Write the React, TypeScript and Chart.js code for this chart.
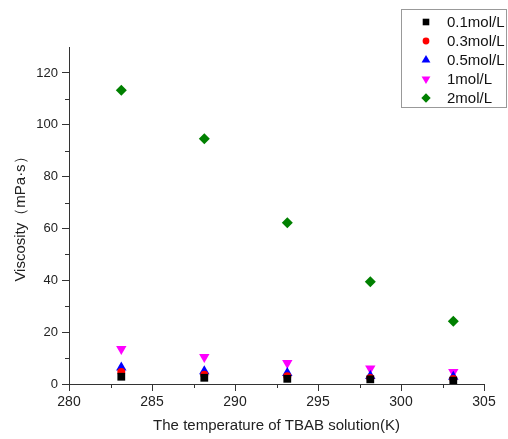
import React, { useEffect, useRef } from "react";
import { Chart, registerables } from "chart.js";
import { drawPoint } from "chart.js/helpers";

Chart.register(...registerables);

const temperatures = [283.15, 288.15, 293.15, 298.15, 303.15];
const c01 = [2.8, 2.4, 2.0, 1.8, 1.3];
const c03 = [4.6, 3.6, 3.0, 2.3, 1.9];
const c05 = [6.4, 4.9, 4.2, 3.1, 2.8];
const c1 = [13.5, 10.4, 8.1, 6.0, 4.6];
const c2 = [113.3, 94.6, 62.2, 39.4, 24.2];

const seriesLabels = ["0.1mol/L", "0.3mol/L", "0.5mol/L", "1mol/L", "2mol/L"];
const xMinorTicks = [282.5, 287.5, 292.5, 297.5, 302.5];
const yMinorTicks = [10, 30, 50, 70, 90, 110];

const FONT = "'Liberation Sans', Arial, sans-serif";

const styles = [
  { pointStyle: "rect", color: "#000000", radius: 5.5, rotation: 0 },
  { pointStyle: "circle", color: "#ff0000", radius: 4, rotation: 0 },
  { pointStyle: "triangle", color: "#0000ff", radius: 6, rotation: 0 },
  { pointStyle: "triangle", color: "#ff00ff", radius: 6, rotation: 180 },
  { pointStyle: "rectRot", color: "#008000", radius: 5.5, rotation: 0 },
];

const minorTicksPlugin = {
  id: "minorTicks",
  afterDraw(chart: any) {
    const { ctx, scales } = chart;
    const x = scales.x;
    const y = scales.y;
    ctx.save();
    ctx.strokeStyle = "#333";
    ctx.lineWidth = 1;
    ctx.beginPath();
    for (const v of xMinorTicks) {
      const px = Math.round(x.getPixelForValue(v)) + 0.5;
      ctx.moveTo(px, y.bottom);
      ctx.lineTo(px, y.bottom + 4);
    }
    for (const v of yMinorTicks) {
      const py = Math.round(y.getPixelForValue(v)) + 0.5;
      ctx.moveTo(x.left, py);
      ctx.lineTo(x.left - 4, py);
    }
    ctx.stroke();
    ctx.restore();
  },
};

const boxLegendPlugin = {
  id: "boxLegend",
  afterDraw(chart: any) {
    const { ctx } = chart;
    ctx.save();
    ctx.strokeStyle = "#999";
    ctx.lineWidth = 1;
    ctx.strokeRect(401.5, 9.5, 105, 98);
    ctx.font = `15px ${FONT}`;
    ctx.textBaseline = "middle";
    ctx.textAlign = "left";
    chart.data.datasets.forEach((ds: any, i: number) => {
      const yy = 22 + i * 19;
      const s = styles[i];
      ctx.fillStyle = s.color;
      ctx.strokeStyle = s.color;
      drawPoint(ctx, { pointStyle: s.pointStyle, radius: s.radius * 0.85, rotation: s.rotation, borderWidth: 0 } as any, 426, yy);
      ctx.fillStyle = "#111";
      ctx.fillText(ds.label, 447, yy + 1);
    });
    ctx.restore();
  },
};

export default function App() {
  const ref = useRef<HTMLCanvasElement | null>(null);
  useEffect(() => {
    document.body.style.margin = "0";
    const all = [c01, c03, c05, c1, c2];
    const chart = new Chart(ref.current as HTMLCanvasElement, {
      type: "scatter",
      data: {
        datasets: all.map((arr, i) => ({
          label: seriesLabels[i],
          data: arr.map((v, j) => ({ x: temperatures[j], y: v })),
          pointStyle: styles[i].pointStyle as any,
          pointRadius: styles[i].radius,
          pointRotation: styles[i].rotation,
          backgroundColor: styles[i].color,
          borderColor: styles[i].color,
          borderWidth: 0,
        })),
      },
      options: {
        animation: false,
        responsive: false,
        maintainAspectRatio: false,
        layout: { padding: { left: 0, right: 24, top: 47, bottom: 0 } },
        plugins: { legend: { display: false }, tooltip: { enabled: false } },
        scales: {
          x: {
            type: "linear",
            min: 280,
            max: 305,
            afterFit: (s: any) => { s.height = 55; },
            ticks: { stepSize: 5, includeBounds: false, color: "#222", font: { family: FONT, size: 14 }, padding: 3 },
            grid: { drawOnChartArea: false, drawTicks: true, tickLength: 7, tickColor: "#333" },
            border: { display: true, color: "#333", width: 1 },
            title: { display: true, text: "The temperature of TBAB solution(K)", color: "#222", font: { family: FONT, size: 15 }, padding: { top: 4, bottom: 4 } },
          },
          y: {
            type: "linear",
            min: 0,
            max: 130,
            afterFit: (s: any) => { s.width = 69; },
            ticks: { stepSize: 20, includeBounds: false, color: "#222", font: { family: FONT, size: 13 }, padding: 4 },
            grid: { drawOnChartArea: false, drawTicks: true, tickLength: 7, tickColor: "#333" },
            border: { display: true, color: "#333", width: 1 },
            title: { display: true, text: "Viscosity（mPa·s）", color: "#222", font: { family: FONT, size: 15 }, padding: { top: 12, bottom: 4 } },
          },
        },
      },
      plugins: [minorTicksPlugin, boxLegendPlugin],
    });
    return () => chart.destroy();
  }, []);
  return (
    <div style={{ position: "absolute", left: 0, top: 0, width: 508, height: 439, background: "#fff" }}>
      <canvas ref={ref} width={508} height={439} />
    </div>
  );
}
